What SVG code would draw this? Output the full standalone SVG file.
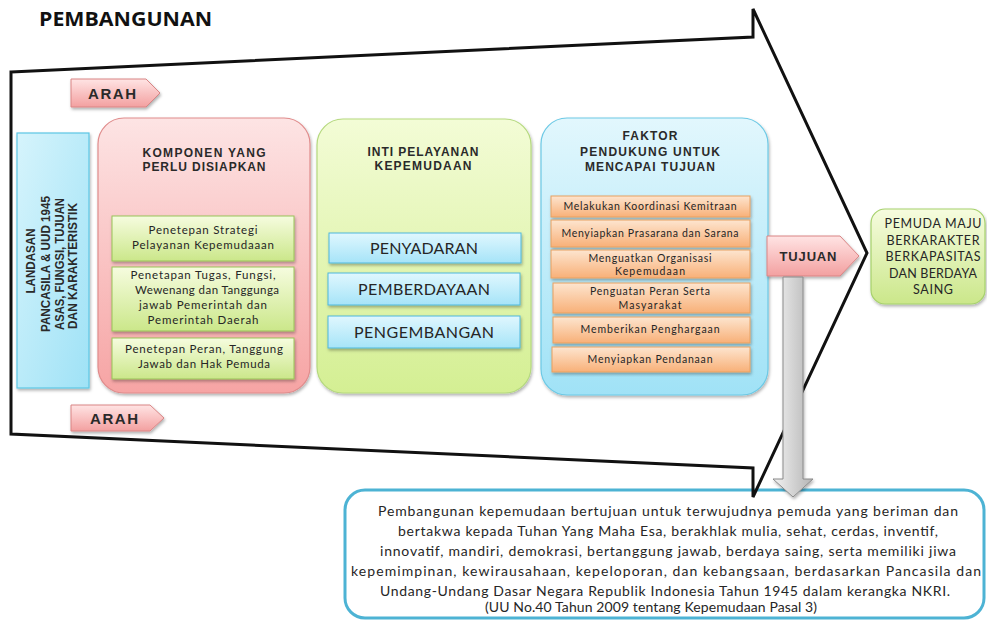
<svg xmlns="http://www.w3.org/2000/svg" width="987" height="622" viewBox="0 0 987 622">
<style>
.t{font-family:"Lato","Open Sans","Liberation Sans",sans-serif;fill:#262626;text-anchor:middle}
.b{font-family:"Liberation Sans","Arial",sans-serif;font-weight:bold;fill:#2a2a2a;text-anchor:middle}
.s{font-size:11.5px}
.o{font-size:10.5px}
.cap{font-size:16px}
.hd{font-size:12px}
.p{font-size:14px}
</style>
<defs>
<filter id="sh" x="-10%" y="-10%" width="130%" height="130%"><feDropShadow dx="1" dy="2" stdDeviation="1.4" flood-color="#000" flood-opacity="0.3"/></filter>
<linearGradient id="gPinkBig" x1="0" y1="0" x2="0" y2="1"><stop offset="0" stop-color="#fde4e4"/><stop offset="1" stop-color="#f6a4a4"/></linearGradient>
<linearGradient id="gGreenS" x1="0" y1="0" x2="0" y2="1"><stop offset="0" stop-color="#f6fcdf"/><stop offset="1" stop-color="#cbe78a"/></linearGradient>
<linearGradient id="gGreenBig" x1="0" y1="0" x2="0" y2="1"><stop offset="0" stop-color="#f3fcd6"/><stop offset="1" stop-color="#d4ef93"/></linearGradient>
<linearGradient id="gBlueS" x1="0" y1="0" x2="0" y2="1"><stop offset="0" stop-color="#e0f7fe"/><stop offset="1" stop-color="#a6e4f8"/></linearGradient>
<linearGradient id="gBlueBig" x1="0" y1="0" x2="0" y2="1"><stop offset="0" stop-color="#e2f7fd"/><stop offset="1" stop-color="#a0e2f6"/></linearGradient>
<linearGradient id="gOrange" x1="0" y1="0" x2="0" y2="1"><stop offset="0" stop-color="#fde5cf"/><stop offset="1" stop-color="#f8b078"/></linearGradient>
<linearGradient id="gArah" x1="0" y1="0" x2="0" y2="1"><stop offset="0" stop-color="#ffe4e4"/><stop offset="1" stop-color="#f3a0a0"/></linearGradient>
<linearGradient id="gGray" x1="0" y1="0" x2="1" y2="0"><stop offset="0" stop-color="#f2f2f2"/><stop offset="1" stop-color="#b4b4b4"/></linearGradient>
<linearGradient id="gLeft" x1="0" y1="0" x2="1" y2="1"><stop offset="0" stop-color="#d6f4fc"/><stop offset="1" stop-color="#9fe2f6"/></linearGradient>
</defs>

<text x="39" y="26" font-family="'Open Sans','Liberation Sans',sans-serif" font-weight="bold" font-size="20" fill="#111" textLength="173" lengthAdjust="spacingAndGlyphs">PEMBANGUNAN</text>

<g id="goal-box">
<rect x="345" y="490" width="639" height="128" rx="20" fill="#fff" stroke="#4db3d4" stroke-width="3"/>
<text class="t p" x="668" y="516" textLength="580">Pembangunan kepemudaan bertujuan untuk terwujudnya pemuda yang beriman dan</text>
<text class="t p" x="668" y="536" textLength="540">bertakwa kepada Tuhan Yang Maha Esa, berakhlak mulia, sehat, cerdas,  inventif,</text>
<text class="t p" x="668" y="556" textLength="576">innovatif, mandiri, demokrasi, bertanggung jawab, berdaya saing, serta memiliki jiwa</text>
<text class="t p" x="666" y="576" textLength="630">kepemimpinan,  kewirausahaan, kepeloporan,  dan kebangsaan, berdasarkan Pancasila dan</text>
<text class="t p" x="665" y="596" textLength="570">Undang-Undang Dasar Negara Republik Indonesia Tahun 1945 dalam kerangka NKRI.</text>
<text class="t p" x="651" y="612" textLength="332">(UU No.40 Tahun 2009 tentang Kepemudaan Pasal 3)</text>
</g>

<g id="connectors">
<path id="big-arrow" d="M11,72 L753,37 L753,9 L867,253 L753,497 L753,468 L11,434 Z" fill="none" stroke="#111" stroke-width="3" stroke-linejoin="miter"/>
</g>

<g id="arah-top">
<path d="M71,79 H146 L160,93 L146,107 H71 Z" fill="url(#gArah)" stroke="#d98484" filter="url(#sh)"/>
<text class="b" x="112" y="99" font-size="15" textLength="48">ARAH</text>
</g>
<g id="arah-bottom">
<path d="M71,405 H150 L164,418 L150,431 H71 Z" fill="url(#gArah)" stroke="#d98484" filter="url(#sh)"/>
<text class="b" x="114" y="424" font-size="15" textLength="48">ARAH</text>
</g>

<g id="landasan">
<rect x="17" y="133" width="72" height="255" fill="url(#gLeft)" stroke="#5cc6e4" stroke-width="1.2" filter="url(#sh)"/>
<text class="b" transform="translate(35,261) rotate(-90)" font-size="12.5" textLength="65" lengthAdjust="spacingAndGlyphs">LANDASAN</text>
<text class="b" transform="translate(50,264) rotate(-90)" font-size="12.5" textLength="136" lengthAdjust="spacingAndGlyphs">PANCASILA &amp; UUD 1945</text>
<text class="b" transform="translate(64,264) rotate(-90)" font-size="12.5" textLength="132" lengthAdjust="spacingAndGlyphs">ASAS, FUNGSI, TUJUAN</text>
<text class="b" transform="translate(77,266) rotate(-90)" font-size="12.5" textLength="126" lengthAdjust="spacingAndGlyphs">DAN KARAKTERISTIK</text>
</g>

<g id="komponen">
<rect x="98" y="118" width="212" height="275" rx="26" fill="url(#gPinkBig)" stroke="#e08c8c" stroke-width="1.2" filter="url(#sh)"/>
<text class="b hd" x="204" y="157" fill="#333" textLength="123">KOMPONEN YANG</text>
<text class="b hd" x="204" y="171" fill="#333" textLength="123">PERLU DISIAPKAN</text>
</g>
<g id="komponen-1">
<rect x="112" y="216" width="182" height="45" fill="url(#gGreenS)" stroke="#98c358" filter="url(#sh)"/>
<text class="t s" x="203" y="234" textLength="109">Penetepan  Strategi</text>
<text class="t s" x="203" y="249" textLength="142">Pelayanan Kepemudaaan</text>
</g>
<g id="komponen-2">
<rect x="112" y="267" width="182" height="64" fill="url(#gGreenS)" stroke="#98c358" filter="url(#sh)"/>
<text class="t s" x="203" y="279" textLength="145">Penetapan Tugas, Fungsi,</text>
<text class="t s" x="207" y="294" textLength="144">Wewenang dan Tanggunga</text>
<text class="t s" x="203" y="309" textLength="128">jawab Pemerintah dan</text>
<text class="t s" x="203" y="324" textLength="111">Pemerintah Daerah</text>
</g>
<g id="komponen-3">
<rect x="112" y="338" width="182" height="41" fill="url(#gGreenS)" stroke="#98c358" filter="url(#sh)"/>
<text class="t s" x="204" y="353" textLength="158">Penetepan  Peran, Tanggung</text>
<text class="t s" x="204" y="368" textLength="132">Jawab dan Hak Pemuda</text>
</g>

<g id="inti">
<rect x="317" y="119" width="214" height="274" rx="26" fill="url(#gGreenBig)" stroke="#b5d97e" stroke-width="1.2" filter="url(#sh)"/>
<text class="b hd" x="423" y="156" fill="#333" textLength="111">INTI PELAYANAN</text>
<text class="b hd" x="423" y="170" fill="#333" textLength="97">KEPEMUDAAN</text>
</g>
<g id="inti-1">
<rect x="329" y="233" width="192" height="30" fill="url(#gBlueS)" stroke="#4fb8dc" filter="url(#sh)"/>
<text class="t cap" x="424" y="254" textLength="108">PENYADARAN</text>
</g>
<g id="inti-2">
<rect x="328" y="273" width="192" height="32" fill="url(#gBlueS)" stroke="#4fb8dc" filter="url(#sh)"/>
<text class="t cap" x="424" y="295" textLength="132">PEMBERDAYAAN</text>
</g>
<g id="inti-3">
<rect x="328" y="316" width="192" height="32" fill="url(#gBlueS)" stroke="#4fb8dc" filter="url(#sh)"/>
<text class="t cap" x="424" y="338" textLength="140">PENGEMBANGAN</text>
</g>

<g id="faktor">
<rect x="541" y="118" width="227" height="277" rx="26" fill="url(#gBlueBig)" stroke="#6cc9e5" stroke-width="1.2" filter="url(#sh)"/>
<text class="b hd" x="650" y="140" fill="#333" textLength="55">FAKTOR</text>
<text class="b hd" x="650" y="156" fill="#333" textLength="140">PENDUKUNG  UNTUK</text>
<text class="b hd" x="650" y="171" fill="#333" textLength="130">MENCAPAI  TUJUAN</text>
</g>
<g id="faktor-1">
<rect x="551" y="196" width="199" height="21" fill="url(#gOrange)" stroke="#e8a060" filter="url(#sh)"/>
<text class="t o" x="650" y="210" textLength="173">Melakukan Koordinasi Kemitraan</text>
</g>
<g id="faktor-2">
<rect x="551" y="220" width="199" height="27" fill="url(#gOrange)" stroke="#e8a060" filter="url(#sh)"/>
<text class="t o" x="650" y="237" textLength="177">Menyiapkan Prasarana dan Sarana</text>
</g>
<g id="faktor-3">
<rect x="551" y="250" width="199" height="28" fill="url(#gOrange)" stroke="#e8a060" filter="url(#sh)"/>
<text class="t o" x="650" y="262" textLength="123">Menguatkan Organisasi</text>
<text class="t o" x="650" y="275" textLength="70">Kepemudaan</text>
</g>
<g id="faktor-4">
<rect x="553" y="283" width="197" height="30" fill="url(#gOrange)" stroke="#e8a060" filter="url(#sh)"/>
<text class="t o" x="650" y="295" textLength="120">Penguatan Peran Serta</text>
<text class="t o" x="650" y="309" textLength="63">Masyarakat</text>
</g>
<g id="faktor-5">
<rect x="553" y="317" width="197" height="26" fill="url(#gOrange)" stroke="#e8a060" filter="url(#sh)"/>
<text class="t o" x="650" y="333" textLength="139">Memberikan Penghargaan</text>
</g>
<g id="faktor-6">
<rect x="552" y="347" width="198" height="25" fill="url(#gOrange)" stroke="#e8a060" filter="url(#sh)"/>
<text class="t o" x="650" y="363" textLength="125">Menyiapkan Pendanaan</text>
</g>

<g id="tujuan">
<path d="M767,236 H840 L859,256 L840,276 H767 Z" fill="url(#gArah)" stroke="#d98484" filter="url(#sh)"/>
<text class="b" x="808" y="261" font-size="13" textLength="57">TUJUAN</text>
</g>

<g id="pemuda-maju">
<rect x="871" y="209" width="114" height="95" rx="14" fill="url(#gGreenS)" stroke="#a6d16c" stroke-width="1.2" filter="url(#sh)"/>
<text class="t" font-size="12.5" x="933" y="228" textLength="97">PEMUDA MAJU</text>
<text class="t" font-size="12.5" x="933" y="244.5" textLength="93">BERKARAKTER</text>
<text class="t" font-size="12.5" x="933" y="261" textLength="95">BERKAPASITAS</text>
<text class="t" font-size="12.5" x="933" y="277.5" textLength="88">DAN BERDAYA</text>
<text class="t" font-size="12.5" x="933" y="294" textLength="40">SAING</text>
</g>

<g id="down-arrow">
<path d="M783,277 H803 V479 H813 L793,497 L773,479 H783 Z" fill="url(#gGray)" stroke="#8a8a8a" filter="url(#sh)"/>
</g>
</svg>
